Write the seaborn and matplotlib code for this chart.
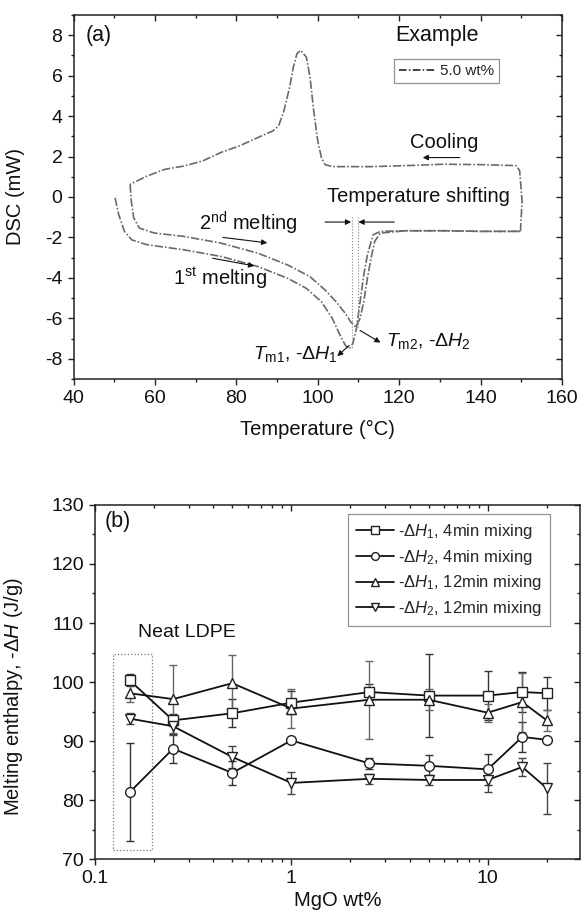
import numpy as np
import pandas as pd
import matplotlib
matplotlib.use("Agg")
import matplotlib.pyplot as plt
import seaborn as sns
from matplotlib.patches import Rectangle
from matplotlib.lines import Line2D
from matplotlib.ticker import MultipleLocator, LogLocator, FixedLocator, FixedFormatter, NullFormatter

# ---------------- data: panel (a) DSC curves ----------------
cool_T = [149.8, 150.2, 149.6, 148.8, 140.0, 130.9, 121.8, 112.7, 103.6, 101.8, 100.9, 100.0,
          99.0, 98.1, 97.2, 95.8, 94.9, 94.0, 93.1, 91.7, 90.4, 89.0, 85.3, 80.8, 76.2,
          71.7, 67.1, 62.5, 58.0, 53.9]
cool_D = [-1.70, -0.20, 1.30, 1.55, 1.60, 1.62, 1.55, 1.50, 1.50, 1.60, 1.95, 2.78,
          4.27, 5.93, 6.92, 7.25, 7.09, 6.42, 5.43, 4.27, 3.52, 3.27, 2.94, 2.53, 2.20,
          1.78, 1.53, 1.37, 1.03, 0.62]

melt1_T = [50.2, 51.1, 52.5, 54.3, 58.0, 67.1, 76.2, 85.3, 92.6, 97.2, 100.9, 103.6,
           105.5, 106.8, 107.7, 108.6, 109.5, 110.4, 111.3, 112.2, 113.6, 115.4, 121.8,
           130.9, 140.0, 149.8]
melt1_D = [-0.04, -0.87, -1.70, -2.12, -2.36, -2.61, -2.94, -3.44, -4.02, -4.52, -5.18, -6.01,
           -6.84, -7.34, -7.51, -7.26, -6.51, -5.18, -3.86, -2.86, -1.87, -1.70, -1.67,
           -1.67, -1.70, -1.70]

melt2_T = [53.9, 54.2, 54.8, 56.2, 59.8, 67.1, 76.2, 85.3, 92.6, 98.1, 101.8, 104.5,
           106.8, 108.1, 109.0, 109.3, 110.4, 111.3, 112.2, 113.1, 114.0, 115.4, 121.8,
           130.9, 140.0, 149.8]
melt2_D = [0.62, -0.21, -1.04, -1.54, -1.78, -1.95, -2.28, -2.78, -3.36, -3.94, -4.60, -5.18,
           -5.76, -6.18, -6.34, -6.43, -6.01, -5.18, -4.02, -3.02, -2.19, -1.78, -1.67,
           -1.67, -1.70, -1.70]

# ---------------- data: panel (b) melting enthalpy ----------------
mgo = [0.15, 0.25, 0.5, 1, 2.5, 5, 10, 15, 20]
dh1_4 = [100.3, 93.5, 94.7, 96.5, 98.3, 97.7, 97.7, 98.3, 98.1]
dh1_4_err = [1.0, 1.0, 2.4, 2.0, 1.4, 7.0, 4.1, 3.4, 2.8]
dh2_4 = [81.3, 88.7, 84.6, 90.1, 86.2, 85.8, 85.2, 90.7, 90.2]
dh2_4_err = [8.3, 2.5, 2.0, 0.5, 0.9, 1.8, 2.6, 2.6, 0.3]
dh1_12 = [98.1, 97.1, 99.8, 95.5, 97.0, 97.0, 94.8, 96.6, 93.5]
dh1_12_err = [1.5, 5.7, 4.7, 3.3, 6.6, 1.8, 1.5, 5.0, 1.8]
dh2_12 = [93.8, 92.5, 87.3, 82.9, 83.6, 83.4, 83.4, 85.6, 82.0]
dh2_12_err = [1.0, 1.5, 1.8, 1.9, 0.8, 0.8, 2.0, 1.5, 4.3]

series_labels = ['-Δ$\\mathit{H}_1$, 4min mixing', '-Δ$\\mathit{H}_2$, 4min mixing',
                 '-Δ$\\mathit{H}_1$, 12min mixing', '-Δ$\\mathit{H}_2$, 12min mixing']
series_markers = ['s', 'o', '^', 'v']

# ---------------- style ----------------
sns.set_theme(style="white")
plt.rcParams['font.family'] = ['Liberation Sans', 'DejaVu Sans']
plt.rcParams['mathtext.fontset'] = 'custom'
plt.rcParams['mathtext.rm'] = 'Liberation Sans'
plt.rcParams['mathtext.it'] = 'Liberation Sans:italic'
plt.rcParams['mathtext.bf'] = 'Liberation Sans:bold'
plt.rcParams['axes.unicode_minus'] = False
plt.rcParams['axes.edgecolor'] = '#222222'
plt.rcParams['axes.linewidth'] = 1.1

TXT = '#111111'
fig = plt.figure(figsize=(5.82, 9.13), dpi=100)
axA = fig.add_axes([0.1263, 0.5849, 0.8393, 0.3987])
axB = fig.add_axes([0.1632, 0.0591, 0.8333, 0.3878])

def style_ticks(ax):
    ax.tick_params(which='both', color='#222222', width=1.0, direction='out',
                   left=True, bottom=True, top=True, right=True)
    ax.tick_params(which='major', length=4.5, labelsize=14, labelcolor=TXT)
    ax.tick_params(which='minor', length=2.5)
    # top/right ticks point inward
    for t in ax.xaxis.get_major_ticks() + ax.xaxis.get_minor_ticks():
        t.tick2line.set_marker(3)
    for t in ax.yaxis.get_major_ticks() + ax.yaxis.get_minor_ticks():
        t.tick2line.set_marker(0)

# ---------------- panel (a) ----------------
dashdot = (0, (5, 1.2, 1, 1.2))
curve_kw = dict(sort=False, estimator=None, color='#6a6a6a', linewidth=1.2, ax=axA)
sns.lineplot(x=cool_T, y=cool_D, linestyle=dashdot, **curve_kw)
sns.lineplot(x=melt1_T, y=melt1_D, linestyle=dashdot, **curve_kw)
sns.lineplot(x=melt2_T, y=melt2_D, linestyle=dashdot, **curve_kw)

axA.set_xlim(40, 160)
axA.set_ylim(-9, 9)
axA.xaxis.set_major_locator(MultipleLocator(20))
axA.xaxis.set_minor_locator(MultipleLocator(10))
axA.yaxis.set_major_locator(MultipleLocator(2))
axA.yaxis.set_minor_locator(MultipleLocator(1))
axA.set_xlabel('Temperature (°C)', fontsize=14.5, color=TXT)
axA.set_ylabel('DSC (mW)', fontsize=14.5, color=TXT)
axA.xaxis.set_label_coords(0.5, -0.112)
axA.yaxis.set_label_coords(-0.1, 0.5)
style_ticks(axA)

# vertical dotted markers of the two peaks
axA.plot([108.3, 108.3], [-1.0, -7.5], color='#888888', lw=0.8, ls=':')
axA.plot([109.8, 109.8], [-1.0, -6.45], color='#888888', lw=0.8, ls=':')

arr = dict(arrowstyle='-|>', color=TXT, lw=0.8, mutation_scale=8, shrinkA=0, shrinkB=0)
axA.text(43.0, 8.0, '(a)', fontsize=15.5, ha='left', va='center', color=TXT)
axA.text(119.0, 8.0, 'Example', fontsize=15.5, ha='left', va='center', color=TXT)
axA.text(122.6, 2.69, 'Cooling', fontsize=14.5, ha='left', va='center', color=TXT)
axA.annotate('', xy=(125.8, 1.95), xytext=(134.9, 1.95), arrowprops=arr)
axA.text(102.2, 0.0, 'Temperature shifting', fontsize=14.5, ha='left', va='center', color=TXT)
axA.annotate('', xy=(108.2, -1.24), xytext=(101.8, -1.24), arrowprops=arr)
axA.annotate('', xy=(110.0, -1.24), xytext=(118.8, -1.24), arrowprops=arr)
axA.text(70.9, -1.29, '2$^{\\rm nd}$ melting', fontsize=14.5, ha='left', va='center', color=TXT)
axA.annotate('', xy=(87.6, -2.27), xytext=(76.7, -2.0), arrowprops=arr)
axA.text(64.4, -4.0, '1$^{\\rm st}$ melting', fontsize=14.5, ha='left', va='center', color=TXT)
axA.annotate('', xy=(84.4, -3.41), xytext=(74.2, -3.03), arrowprops=arr)
axA.text(84.0, -7.75, '$\\mathit{T}_{\\rm m1}$, -$\\mathit{ΔH}_1$', fontsize=14,
         ha='left', va='center', color=TXT)
axA.annotate('', xy=(104.8, -7.87), xytext=(107.7, -7.34), arrowprops=arr)
axA.text(116.8, -7.1, '$\\mathit{T}_{\\rm m2}$, -$\\mathit{ΔH}_2$', fontsize=14,
         ha='left', va='center', color=TXT)
axA.annotate('', xy=(115.4, -7.2), xytext=(110.4, -6.6), arrowprops=arr)

proxy = Line2D([], [], color=TXT, lw=1.1, linestyle=(0, (5, 1.5, 1, 1.5)))
legA = axA.legend([proxy], ['5.0 wt%'], loc='upper left', bbox_to_anchor=(0.657, 0.878),
                  fontsize=11, frameon=True, fancybox=False, borderpad=0.3,
                  handlelength=2.4, handletextpad=0.3, borderaxespad=0)
legA.get_frame().set_edgecolor('#777777')
legA.get_frame().set_linewidth(0.9)

# ---------------- panel (b) ----------------
ys = [dh1_4, dh2_4, dh1_12, dh2_12]
errs = [dh1_4_err, dh2_4_err, dh1_12_err, dh2_12_err]
ecolors = ['#333333', '#333333', '#666666', '#444444']
for y, e, c in zip(ys, errs, ecolors):
    axB.errorbar(mgo, y, yerr=e, fmt='none', ecolor=c, elinewidth=1.0, capsize=3.2,
                 capthick=1.0, zorder=1)
for y, lab, mk in zip(ys, series_labels, series_markers):
    sns.lineplot(x=mgo, y=y, ax=axB, color=TXT, linewidth=1.3, marker=mk,
                 markersize=7.5 if mk in '^v' else 7, markerfacecolor='white',
                 markeredgecolor='#222222', markeredgewidth=1.0, label=lab, zorder=3,
                 sort=False, estimator=None)

axB.add_patch(Rectangle((0.123, 71.6), 0.196 - 0.123, 104.7 - 71.6, fill=False,
                        edgecolor='#777777', linestyle=':', linewidth=0.9, zorder=0.5))
axB.text(0.166, 108.4, 'Neat LDPE', fontsize=14, ha='left', va='center', color=TXT)
axB.text(0.02, 0.953, '(b)', transform=axB.transAxes, fontsize=15.5, ha='left', va='center',
         color=TXT)

axB.set_xscale('log')
axB.set_xlim(0.1, 29.5)
axB.set_ylim(70, 130)
axB.xaxis.set_major_locator(FixedLocator([0.1, 1, 10]))
axB.xaxis.set_major_formatter(FixedFormatter(['0.1', '1', '10']))
axB.xaxis.set_minor_locator(LogLocator(base=10, subs=np.arange(2, 10), numticks=20))
axB.xaxis.set_minor_formatter(NullFormatter())
axB.yaxis.set_major_locator(MultipleLocator(10))
axB.yaxis.set_minor_locator(MultipleLocator(5))
axB.set_xlabel('MgO wt%', fontsize=14.5, color=TXT, va='center')
axB.set_ylabel('Melting enthalpy, -$\\mathit{ΔH}$ (J/g)', fontsize=14.5, color=TXT)
axB.xaxis.set_label_coords(0.5, -0.118)
axB.yaxis.set_label_coords(-0.145, 0.458)
style_ticks(axB)

legB = axB.legend(loc='upper right', bbox_to_anchor=(0.938, 0.975), fontsize=12,
                  frameon=True, fancybox=False, borderpad=0.5, labelspacing=0.4,
                  handlelength=2.3, handletextpad=0.2, borderaxespad=0, markerscale=0.8)
legB.get_frame().set_edgecolor('#777777')
legB.get_frame().set_linewidth(0.9)

for ax in (axA, axB):
    for s in ax.spines.values():
        s.set_visible(True)
        s.set_color('#222222')
        s.set_linewidth(1.1)

fig.savefig('out.png', dpi=100)
